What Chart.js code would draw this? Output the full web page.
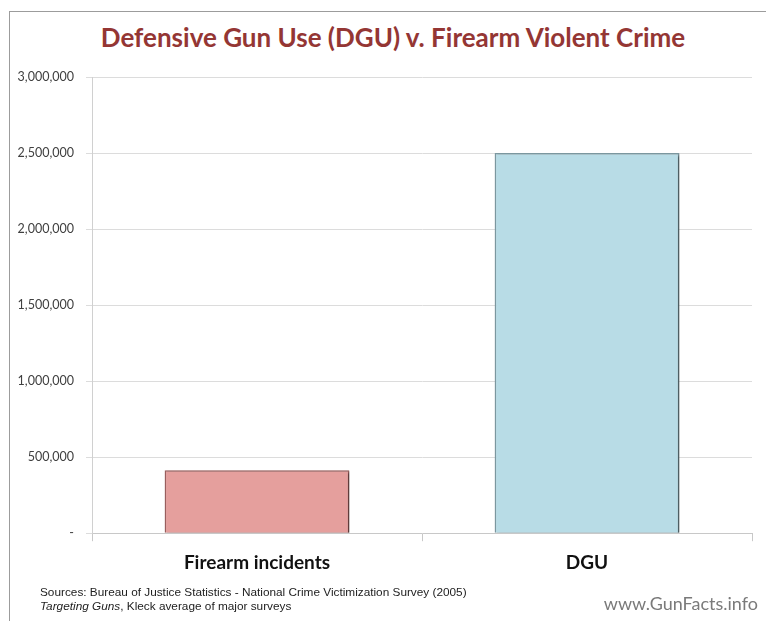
<!DOCTYPE html>
<html>
<head>
<meta charset="utf-8">
<script src="https://cdn.jsdelivr.net/npm/chart.js@4"></script>
<style>
  html, body { margin: 0; padding: 0; background: #fff; }
  #wrap { position: relative; width: 766px; height: 621px; overflow: hidden; }
  #frame { position: absolute; left: 9px; top: 11px; width: 780px; height: 700px;
           border-left: 1px solid #9c9c9c; border-top: 1px solid #9c9c9c; }
  #title { position: absolute; left: 0; width: 786px; top: 21px; text-align: center;
           font: bold 26px Lato, sans-serif; color: #943634; }
  #src { position: absolute; left: 40px; top: 585px; font: 11.8px "Liberation Sans", Arial, sans-serif;
         color: #222; line-height: 14px; }
  #site { position: absolute; right: 8px; top: 592px; font: 18px Lato, sans-serif; color: #7a7a7a; }
  canvas { position: absolute; left: 0; top: 0; }
</style>
</head>
<body>
<div id="wrap">
  <div id="frame"></div>
  <div id="title">Defensive Gun Use (DGU) v. Firearm Violent Crime</div>
  <canvas id="myChart" width="766" height="621"></canvas>
  <div id="src">Sources: Bureau of Justice Statistics - National Crime Victimization Survey (2005)<br><i>Targeting Guns</i>, Kleck average of major surveys</div>
  <div id="site">www.GunFacts.info</div>
</div>
<script>
const categories = ["Firearm incidents", "DGU"];
const values = [414000, 2500000];
const tickValues = [0, 500000, 1000000, 1500000, 2000000, 2500000, 3000000];

document.addEventListener("DOMContentLoaded", () => {
  const barShadow = {
    id: "barShadow",
    beforeDatasetDraw(chart) {
      const c = chart.ctx;
      c.save();
      c.shadowColor = "rgba(0,0,0,0.4)";
      c.shadowOffsetX = 2;
      c.shadowOffsetY = 1;
      c.shadowBlur = 2;
    },
    afterDatasetDraw(chart) {
      chart.ctx.restore();
    },
  };

  const ctx = document.getElementById("myChart");
  new Chart(ctx, {
    type: "bar",
    data: {
      labels: categories,
      datasets: [
        {
          data: values,
          backgroundColor: ["#e59f9d", "#b8dce6"],
          borderColor: ["#9a5e5d", "#7b979f"],
          borderWidth: 1.5,
          barPercentage: 0.56,
          categoryPercentage: 1,
        },
      ],
    },
    options: {
      responsive: false,
      animation: false,
      layout: { padding: { top: 77, left: 10, right: 14, bottom: 37 } },
      plugins: {
        legend: { display: false },
        tooltip: { enabled: false },
      },
      scales: {
        x: {
          grid: {
            offset: true,
            drawOnChartArea: false,
            drawTicks: true,
            tickLength: 8,
            color: "#c8c8c8",
          },
          border: { color: "#c8c8c8" },
          ticks: {
            padding: 10,
            color: "#111",
            font: { family: "Lato", size: 19, weight: "bold" },
          },
        },
        y: {
          min: 0,
          max: 3000000,
          afterFit: (scale) => { scale.width = 82; },
          afterBuildTicks: (scale) => {
            scale.ticks = tickValues.map((v) => ({ value: v }));
          },
          grid: { color: "#dcdcdc", tickLength: 6 },
          border: { color: "#d0d0d0" },
          ticks: {
            padding: 12,
            color: "#404040",
            font: { family: "Lato", size: 12.5 },
            callback: (v) => (v === 0 ? "-" : v.toLocaleString("en-US")),
          },
        },
      },
    },
    plugins: [barShadow],
  });
});
</script>
</body>
</html>
